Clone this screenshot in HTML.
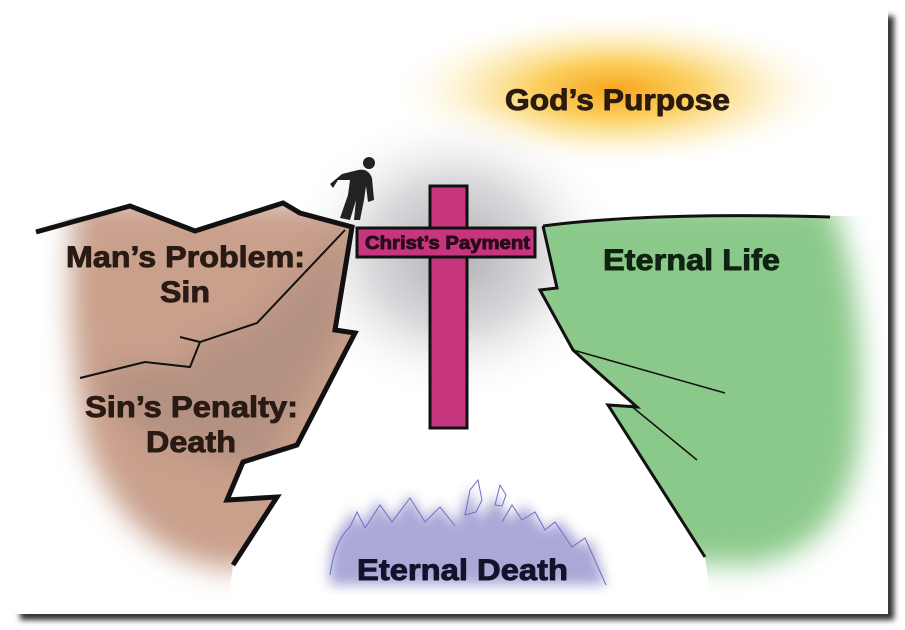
<!DOCTYPE html>
<html><head><style>
body{margin:0;background:#fff;width:905px;height:630px;overflow:hidden}
svg{display:block}
text{font-family:"Liberation Sans",sans-serif;font-weight:bold;stroke-width:0.9;stroke-linejoin:round}
</style></head><body>
<svg width="905" height="630" viewBox="0 0 905 630">
<defs>
<filter id="b6"><feGaussianBlur stdDeviation="6"/></filter>
<filter id="b12"><feGaussianBlur stdDeviation="14"/></filter>
<filter id="sh"><feGaussianBlur stdDeviation="3"/></filter>
<radialGradient id="sun" cx="0.5" cy="0.5" r="0.5">
<stop offset="0" stop-color="#f7a51c"/><stop offset="0.35" stop-color="#fbd060"/><stop offset="0.7" stop-color="#fdf0c8" stop-opacity="0.7"/><stop offset="1" stop-color="#fff" stop-opacity="0"/></radialGradient>
<radialGradient id="haze" cx="0.5" cy="0.5" r="0.5">
<stop offset="0" stop-color="#b0b0b5"/><stop offset="0.5" stop-color="#dadadd"/><stop offset="1" stop-color="#fff" stop-opacity="0"/></radialGradient>
</defs>
<rect x="20" y="16" width="874" height="604" fill="#333" filter="url(#sh)"/>
<rect x="14" y="10" width="874" height="604" fill="#fff"/>
<clipPath id="card"><rect x="14" y="10" width="874" height="604"/></clipPath>
<clipPath id="lc"><path d="M0,232 L130,207 L195,232 L283,204 L300,214 L350,227 L335,330 L355,333 L297,445 L243,462 L227,500 L277,497 L233,565 L225,630 L0,630 Z"/></clipPath>
<clipPath id="rc"><path d="M543,226 Q650,212 905,217 L905,630 L715,630 L705,557 L608,405 L637,407 L573,350 L540,290 L557,288 Z"/></clipPath>
<g clip-path="url(#card)">
<ellipse cx="615" cy="90" rx="230" ry="80" fill="url(#sun)"/>
<ellipse cx="455" cy="255" rx="170" ry="150" fill="url(#haze)"/>
<g clip-path="url(#lc)">
<path d="M75,200 L400,200 L400,520 L240,570 Q130,565 85,440 Q62,320 75,200 Z" fill="#c9a08c" filter="url(#b12)"/>
<path d="M345,230 L257,323 L200,342 L187,367 L145,364 L90,378 L150,440 L260,470 L340,330 Z" fill="#9b7f74" opacity="0.45" filter="url(#b12)"/>
</g>
<g clip-path="url(#rc)">
<path d="M520,200 L830,200 Q870,300 858,450 Q840,555 745,565 L600,560 L520,300 Z" fill="#8bc98a" filter="url(#b12)"/>
</g>
<path d="M330,585 Q326,540 345,525 L352,510 L362,525 L378,500 L392,520 L410,495 L425,520 L440,505 L455,525 L470,488 L480,520 L495,495 L510,520 L525,505 L545,530 L560,520 L580,545 L592,540 L606,585 Z" fill="#9b9ad0" opacity="0.85" filter="url(#b6)"/>
<path d="M330,575 Q335,540 350,527 L357,512 L365,528 L380,505 L392,522 L410,498 L425,522 L440,507 L455,526 M465,515 L470,490 L478,480 L482,500 L476,512 Z M495,505 L500,485 L506,495 L502,506 Z M502,522 L512,505 L522,520 L535,512 L545,530 L555,522 L572,547 L585,538 L606,585" fill="none" stroke="#6f6fc0" stroke-width="1"/>
<path d="M36,232 L130,206 L195,231 L283,203 L300,213 L352,227 L335,330 L355,333 L297,445 L243,462 L227,500 L277,497 L233,565" fill="none" stroke="#111" stroke-width="5"/>
<path d="M345,230 L257,323 L200,342 L190,367 L145,362 L80,378 M200,342 L180,337" fill="none" stroke="#111" stroke-width="2"/>
<path d="M543,226 Q650,212 830,217 M543,226 L557,288 L540,290 L573,350 L637,407 L608,405 L705,557" fill="none" stroke="#111" stroke-width="3"/>
<path d="M573,350 L725,393 M630,405 L697,460" fill="none" stroke="#111" stroke-width="1.5"/>
<rect x="430" y="186" width="37" height="242" fill="#c8357f" stroke="#111" stroke-width="3"/>
<rect x="357" y="228" width="178" height="29" fill="#c8357f" stroke="#111" stroke-width="3"/>
<rect x="431.5" y="229.5" width="34" height="26" fill="#c8357f"/>
<text x="365" y="249" font-size="18" textLength="165" lengthAdjust="spacingAndGlyphs" fill="#2a0a1a" stroke="#2a0a1a" stroke-width="0.5">Christ’s Payment</text>
<g fill="#222">
<circle cx="369" cy="163" r="6"/>
<path d="M358,170 Q368,168 372,178 L374,200 L368,202 L366,186 L364,200 L360,220 L354,220 L356,200 L350,220 L340,218 L348,195 L350,180 L338,180 L333,188 L330,184 L342,174 Z"/>
</g>
<g fill="#2a1a14" stroke="#2a1a14" font-size="30">
<text x="66" y="267" textLength="239" lengthAdjust="spacingAndGlyphs">Man’s Problem:</text>
<text x="160" y="302" textLength="50" lengthAdjust="spacingAndGlyphs">Sin</text>
<text x="85" y="417" textLength="213" lengthAdjust="spacingAndGlyphs">Sin’s Penalty:</text>
<text x="146" y="452" textLength="90" lengthAdjust="spacingAndGlyphs">Death</text>
</g>
<text x="603" y="270" font-size="30" textLength="177" lengthAdjust="spacingAndGlyphs" fill="#0f2410" stroke="#0f2410">Eternal Life</text>
<text x="505" y="110" font-size="30" textLength="225" lengthAdjust="spacingAndGlyphs" fill="#2a1a10" stroke="#2a1a10">God’s Purpose</text>
<text x="357" y="580" font-size="30" textLength="211" lengthAdjust="spacingAndGlyphs" fill="#14122a" stroke="#14122a">Eternal Death</text>
</g>
</svg>
</body></html>
